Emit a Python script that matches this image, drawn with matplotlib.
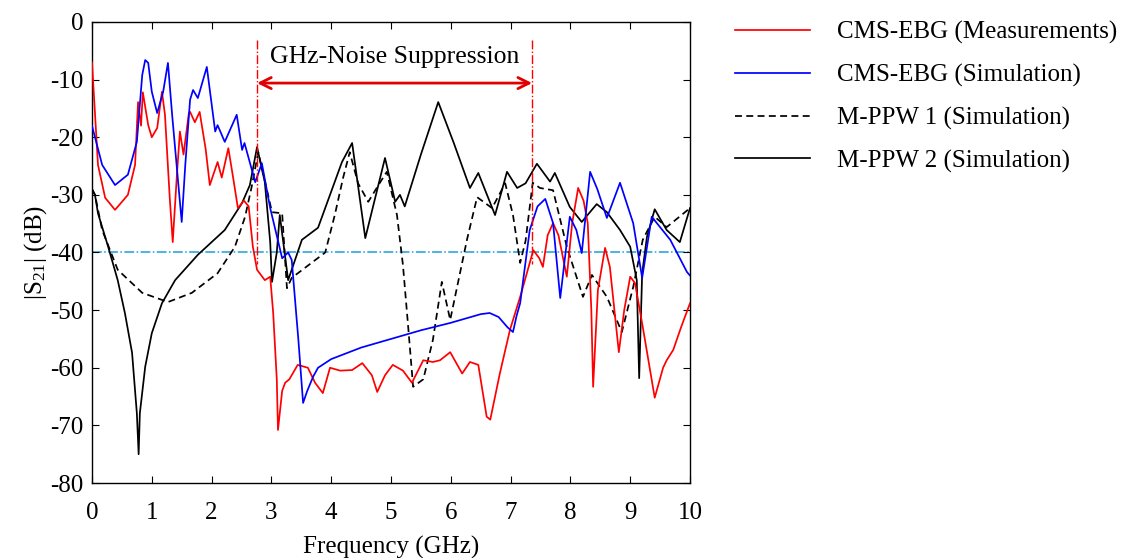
#!/usr/bin/env python3
import matplotlib as mpl

mpl.use("Agg")
import matplotlib.pyplot as plt

# --- data (frequency in GHz, |S21| in dB) ---
meas_f = [0.0, 0.1, 0.22, 0.385, 0.6, 0.72, 0.77, 0.82, 0.85, 0.94, 1.0, 1.09, 1.17, 1.22, 1.3,
          1.35, 1.42, 1.47, 1.53, 1.62, 1.64, 1.72, 1.8, 1.9, 1.97, 2.1, 2.17, 2.28, 2.36, 2.44,
          2.54, 2.62, 2.69, 2.76, 2.89, 2.98, 3.03, 3.09, 3.11, 3.18, 3.23, 3.3, 3.44, 3.61, 3.73,
          3.86, 3.98, 4.15, 4.35, 4.52, 4.68, 4.77, 4.9, 5.03, 5.2, 5.35, 5.54, 5.7, 5.82, 5.99,
          6.19, 6.32, 6.46, 6.6, 6.66, 6.82, 6.99, 7.16, 7.38, 7.48, 7.54, 7.62, 7.71, 7.8, 7.94,
          8.03, 8.13, 8.22, 8.29, 8.35, 8.38, 8.46, 8.58, 8.66, 8.81, 8.9, 9.0, 9.08, 9.21, 9.41,
          9.55, 9.61, 9.72, 9.85, 10.0]
meas_db = [-7, -24.8, -30.5, -32.6, -30, -24.8, -13.9, -18, -12.2, -17.9, -20, -18.4, -12.1, -16.1, -30.5,
           -38.2, -26.5, -19, -23, -15.8, -15.6, -17.4, -15.6, -22, -28.3, -24.3, -27, -21.9, -27, -32.3,
           -31, -32, -39, -43, -44.8, -44.2, -50.5, -62, -70.8, -64, -62.6, -62, -59.5, -60, -62.6,
           -64.4, -60, -60.5, -60.4, -59.2, -61.3, -64.2, -61.3, -59.5, -60.5, -62.6, -58.7, -59, -58.7, -57.3,
           -61, -59, -59.5, -68.5, -69, -61, -53.4, -47.7, -39.6, -41, -42.5, -37, -34.9, -37, -44.2,
           -34.9, -28.8, -31, -34.9, -50, -63.3, -46.5, -39.2, -42.5, -57.3, -50, -44.2, -45.3, -52.9, -65.2,
           -60, -58.7, -56.9, -53, -48.8]

sim_f = [0.0, 0.05, 0.17, 0.385, 0.6, 0.75, 0.84, 0.89, 0.94, 1.0, 1.09, 1.19, 1.27, 1.34, 1.5,
         1.56, 1.64, 1.69, 1.77, 1.92, 2.06, 2.1, 2.22, 2.42, 2.51, 2.55, 2.73, 2.84, 2.98, 3.18,
         3.28, 3.34, 3.45, 3.53, 3.6, 3.7, 3.78, 4.0, 4.5, 5.0, 5.5, 6.0, 6.5, 6.65, 6.8,
         6.95, 7.04, 7.1, 7.16, 7.32, 7.45, 7.58, 7.71, 7.83, 7.99, 8.1, 8.19, 8.33, 8.45, 8.61,
         8.83, 9.05, 9.2, 9.36, 9.67, 9.95, 10.0]
sim_db = [-18, -20, -24.8, -28.3, -26.5, -20.8, -9.2, -6.6, -7.1, -12.1, -15.8, -12.1, -7.1, -16.1, -34.7,
          -24.8, -13.5, -11.8, -13.2, -7.8, -19, -17.9, -20.8, -16.1, -22.2, -21, -27.8, -24.5, -32.3, -41,
          -40, -41.3, -55, -66.1, -64, -61.5, -60, -58.5, -56.5, -55, -53.5, -52.2, -50.7, -50.5, -51.2,
          -53, -53.8, -51, -48.8, -36.1, -32, -30.7, -34.9, -47.9, -33.8, -36.1, -40.1, -26, -29, -34,
          -27.9, -34.9, -44.4, -33.8, -37.8, -43.4, -44]

ppw1_f = [0.0, 0.05, 0.17, 0.43, 0.84, 1.27, 1.67, 2.1, 2.39, 2.56, 2.67, 2.78, 2.9, 3.01, 3.18,
          3.26, 3.34, 3.9, 4.06, 4.2, 4.31, 4.45, 4.62, 4.82, 4.93, 5.1, 5.2, 5.28, 5.37, 5.54,
          5.7, 5.85, 5.99, 6.27, 6.44, 6.69, 6.91, 7.04, 7.16, 7.25, 7.37, 7.49, 7.71, 7.94, 8.21,
          8.36, 8.61, 8.86, 9.05, 9.21, 9.41, 9.61, 10.0]
ppw1_db = [-29, -30, -36.1, -43, -47, -48.6, -47, -43.6, -39, -33.8, -28.6, -22.6, -28, -33, -33.2,
           -46.2, -44.4, -40, -33.5, -27, -22.6, -28, -31.2, -27.8, -26, -33.5, -42.2, -52, -63.3, -62,
           -55.2, -45.1, -51.7, -37.8, -30.4, -32.3, -28, -33.5, -41.8, -38, -27.9, -28.8, -29.2, -39, -47.7,
           -43.9, -47.7, -53.8, -46, -37.8, -33.8, -35.6, -32.3]

ppw2_f = [0.0, 0.05, 0.1, 0.27, 0.43, 0.55, 0.67, 0.75, 0.78, 0.8, 0.89, 1.0, 1.17, 1.39, 1.77,
          2.22, 2.51, 2.64, 2.76, 2.89, 2.98, 3.01, 3.09, 3.14, 3.28, 3.51, 3.78, 4.18, 4.35, 4.57,
          4.9, 5.07, 5.15, 5.23, 5.5, 5.79, 6.05, 6.32, 6.46, 6.74, 6.94, 7.11, 7.25, 7.44, 7.66,
          7.74, 7.99, 8.19, 8.44, 8.61, 8.83, 9.0, 9.11, 9.15, 9.2, 9.28, 9.41, 9.61, 9.83, 10.0]
ppw2_db = [-29, -30, -33.2, -39, -44.8, -50.5, -57.4, -67.9, -75, -67.9, -59.8, -54, -48.8, -44.8, -40.4,
           -36.1, -31.4, -28.3, -21.7, -27.8, -38.2, -45.1, -40, -33.5, -44.8, -37.8, -35.7, -24.3, -21, -37.5,
           -23.6, -31.2, -30, -32, -23, -13.9, -21, -28.8, -26.2, -33.5, -26, -28.8, -28, -24.6, -27.7,
           -26.2, -32.1, -34.7, -31.6, -33, -36.1, -39, -44.8, -61.8, -43.6, -37.3, -32.5, -36.1, -38.2, -32.3]

series_labels = ["CMS-EBG (Measurements)", "CMS-EBG (Simulation)",
                 "M-PPW 1 (Simulation)", "M-PPW 2 (Simulation)"]

band_start, band_stop = 2.76, 7.36
threshold_db = -40

plt.rcParams.update({
    "font.family": "Liberation Serif",
    "font.size": 18,
    "axes.unicode_minus": False,
    "mathtext.fontset": "custom",
    "mathtext.rm": "Liberation Serif",
    "mathtext.it": "Liberation Serif:italic",
    "xtick.direction": "in",
    "ytick.direction": "in",
    "xtick.top": True,
    "ytick.right": True,
    "xtick.major.size": 5,
    "ytick.major.size": 5,
    "xtick.major.pad": 14,
    "ytick.major.pad": 6,
    "axes.linewidth": 1.0,
})

fig = plt.figure(figsize=(11.33, 5.58), dpi=100)
ax = fig.add_axes([0.0812, 0.1344, 0.5278, 0.8262])

lw = 1.25
ax.plot(meas_f, meas_db, color="#ff0000", lw=lw, label=series_labels[0], zorder=3)
ax.plot(sim_f, sim_db, color="#0000ff", lw=lw, label=series_labels[1], zorder=3)
ax.plot(ppw1_f, ppw1_db, color="black", lw=lw, ls=(0, (4, 2.5)), label=series_labels[2], zorder=2)
ax.plot(ppw2_f, ppw2_db, color="black", lw=lw, label=series_labels[3], zorder=2)

ax.axhline(threshold_db, color="#1aa0dc", lw=1.1, ls="-.", zorder=1)
for xv in (band_start, band_stop):
    ax.plot([xv, xv], [-3.1, -42], color="#ff0000", lw=1.0, ls="-.", zorder=4)
ax.annotate("", xy=(band_start, -10.6), xytext=(band_stop, -10.6),
            arrowprops=dict(arrowstyle="<->", color="#e00000", lw=2.0, mutation_scale=20,
                            shrinkA=0, shrinkB=0))
ax.text((band_start + band_stop) / 2, -7.1, "GHz-Noise Suppression", ha="center", va="baseline",
        fontsize=18.5)

ax.set_xlim(0, 10)
ax.set_ylim(-80, 0)
ax.set_xticks(range(0, 11))
ax.set_yticks(range(-80, 1, 10))
ax.set_xlabel("Frequency (GHz)", labelpad=8)
ax.set_ylabel("|S$_{21}$| (dB)", labelpad=1)

ax.legend(loc="upper left", bbox_to_anchor=(1.0376, 1.051), frameon=False,
          handlelength=3.0, handletextpad=1.1, labelspacing=0.79)

fig.savefig("out.png", dpi=100)
